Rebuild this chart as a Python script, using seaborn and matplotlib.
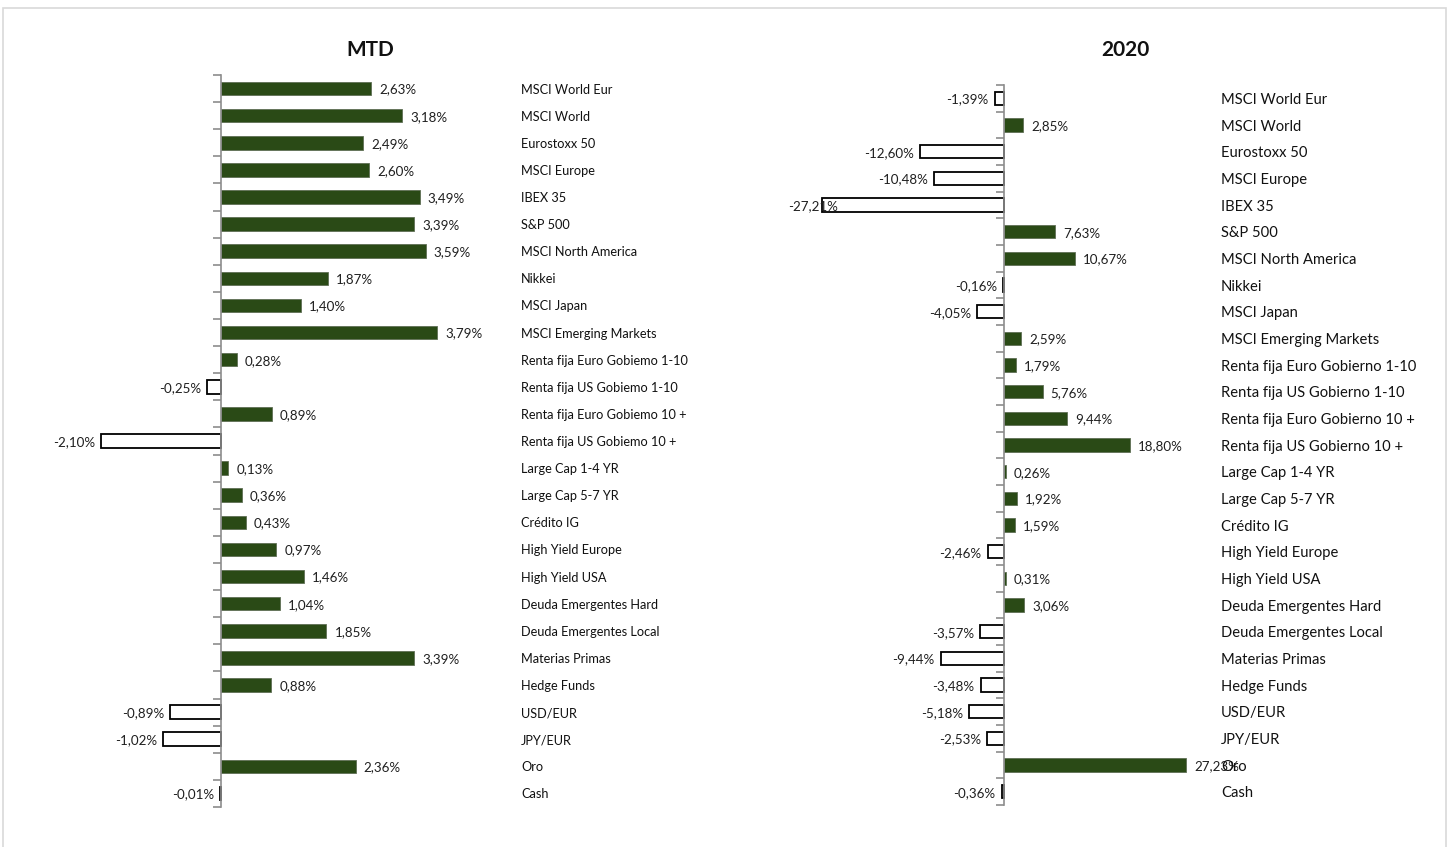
import numpy as np
import pandas as pd
import seaborn as sns
import matplotlib.pyplot as plt
from matplotlib.patches import Rectangle
from matplotlib import transforms

# Data
mtd_labels = ['MSCI World Eur', 'MSCI World', 'Eurostoxx 50', 'MSCI Europe', 'IBEX 35', 'S&P 500',
              'MSCI North America', 'Nikkei', 'MSCI Japan', 'MSCI Emerging Markets',
              'Renta fija Euro Gobiemo 1-10', 'Renta fija US Gobiemo 1-10',
              'Renta fija Euro Gobiemo 10 +', 'Renta fija US Gobiemo 10 +',
              'Large Cap 1-4 YR', 'Large Cap 5-7 YR', 'Crédito IG', 'High Yield Europe',
              'High Yield USA', 'Deuda Emergentes Hard', 'Deuda Emergentes Local',
              'Materias Primas', 'Hedge Funds', 'USD/EUR', 'JPY/EUR', 'Oro', 'Cash']
mtd_values = [2.63, 3.18, 2.49, 2.60, 3.49, 3.39, 3.59, 1.87, 1.40, 3.79, 0.28, -0.25, 0.89, -2.10,
              0.13, 0.36, 0.43, 0.97, 1.46, 1.04, 1.85, 3.39, 0.88, -0.89, -1.02, 2.36, -0.01]

ytd_labels = ['MSCI World Eur', 'MSCI World', 'Eurostoxx 50', 'MSCI Europe', 'IBEX 35', 'S&P 500',
              'MSCI North America', 'Nikkei', 'MSCI Japan', 'MSCI Emerging Markets',
              'Renta fija Euro Gobierno 1-10', 'Renta fija US Gobierno 1-10',
              'Renta fija Euro Gobierno 10 +', 'Renta fija US Gobierno 10 +',
              'Large Cap 1-4 YR', 'Large Cap 5-7 YR', 'Crédito IG', 'High Yield Europe',
              'High Yield USA', 'Deuda Emergentes Hard', 'Deuda Emergentes Local',
              'Materias Primas', 'Hedge Funds', 'USD/EUR', 'JPY/EUR', 'Oro', 'Cash']
ytd_values = [-1.39, 2.85, -12.60, -10.48, -27.21, 7.63, 10.67, -0.16, -4.05, 2.59, 1.79, 5.76, 9.44,
              18.80, 0.26, 1.92, 1.59, -2.46, 0.31, 3.06, -3.57, -9.44, -3.48, -5.18, -2.53, 27.23, -0.36]

sns.set_theme(style='white')
plt.rcParams['font.family'] = ['Lato', 'DejaVu Sans']

W, H = 1451, 847
fig = plt.figure(figsize=(W / 100, H / 100), dpi=100)
green = '#2a4a16'

# light frame around the whole picture
fig.add_artist(Rectangle((3 / W, -0.01), (1446 - 3) / W, 1.01 - 8 / H, transform=fig.transFigure,
                         fill=False, edgecolor='#d9d9d9', linewidth=1.2))


def panel(labels, values, title, left_px, right_px, zero_px, scale, top_px, bot_px,
          label_px, title_px, cat_size, val_size):
    ax = fig.add_axes([left_px / W, 1 - bot_px / H, (right_px - left_px) / W, (bot_px - top_px) / H])
    df = pd.DataFrame({'cat': labels, 'val': values})
    sns.barplot(data=df, x='val', y='cat', order=labels, orient='h', color=green,
                width=0.5, ax=ax, saturation=1)
    for p, v in zip(ax.patches, values):
        if v < 0:
            p.set_facecolor('white')
            p.set_edgecolor('black')
            p.set_linewidth(1.3)
        else:
            p.set_edgecolor('#5f6f55')
            p.set_linewidth(0.6)
    xmin = (left_px - zero_px) / scale
    xmax = (right_px - zero_px) / scale
    ax.set_xlim(xmin, xmax)
    ax.set_ylim(len(labels) - 0.5, -0.5)

    for s in ['top', 'right', 'bottom']:
        ax.spines[s].set_visible(False)
    ax.spines['left'].set_position(('data', 0))
    ax.spines['left'].set_color('#8c8c8c')
    ax.spines['left'].set_linewidth(1.2)
    ax.set_xticks([])
    ax.set_yticks(np.arange(-0.5, len(labels), 1))
    ax.set_yticklabels([])
    ax.tick_params(axis='y', direction='out', length=6, width=1.2, color='#8c8c8c', left=True)
    ax.set_xlabel('')
    ax.set_ylabel('')

    # value labels
    pad = 8 / scale
    for i, v in enumerate(values):
        txt = f'{v:.2f}%'.replace('.', ',')
        if v >= 0:
            ax.text(v + pad, i, txt, ha='left', va='center_baseline', fontsize=val_size, color='#1f1f1f')
        else:
            x = v - 6 / scale
            if x - 45 / scale < xmin:
                ax.text(xmin, i, txt, ha='left', va='center_baseline', fontsize=val_size, color='#1f1f1f')
            else:
                ax.text(x, i, txt, ha='right', va='center_baseline', fontsize=val_size, color='#1f1f1f')

    # category labels on the right
    tr = transforms.blended_transform_factory(fig.transFigure, ax.transData)
    for i, lab in enumerate(labels):
        ax.text(label_px / W, i, lab, transform=tr, ha='left', va='center_baseline',
                fontsize=cat_size, color='#111111', clip_on=False)

    fig.text(title_px / W, 1 - 50 / H, title, ha='center', va='center',
             fontsize=15, fontweight='bold', color='#111111')
    return ax


panel(mtd_labels, mtd_values, 'MTD', 40, 500, 221, 57.0, 75, 807, 521, 370, 9.2, 9.6)
panel(ytd_labels, ytd_values, '2020', 788, 1200, 1004, 6.69, 85, 805, 1221, 1125, 10.6, 9.6)

fig.savefig('out.png', dpi=100)
